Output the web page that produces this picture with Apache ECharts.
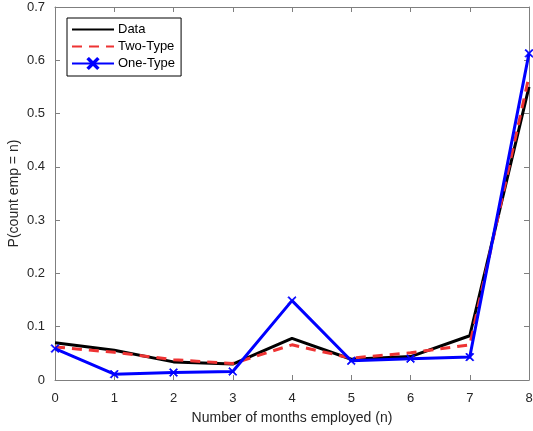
<!DOCTYPE html>
<html><head><meta charset="utf-8">
<script src="https://cdn.jsdelivr.net/npm/echarts@6/dist/echarts.min.js"></script>
<style>html,body{margin:0;padding:0;background:#fff}#c{width:533px;height:431px}</style>
</head><body><div id="c"></div>
<script>
const categories = [0, 1, 2, 3, 4, 5, 6, 7, 8];
const dataSeries = [0.070, 0.056, 0.034, 0.030, 0.078, 0.039, 0.044, 0.083, 0.550];
const twoType = [0.062, 0.052, 0.038, 0.031, 0.066, 0.041, 0.051, 0.066, 0.570];
const oneType = [0.059, 0.011, 0.014, 0.016, 0.149, 0.036, 0.040, 0.043, 0.613];
const yTicks = [0, 0.1, 0.2, 0.3, 0.4, 0.5, 0.6, 0.7];

const font = 'Liberation Sans, Arial, sans-serif';
const axisColor = '#7f7f7f';
const textColor = '#262626';
const xMark = 'path://M1,0L5,4L9,0L10,1L6,5L10,9L9,10L5,6L1,10L0,9L4,5L0,1Z';

const pairs = arr => arr.map((v, i) => [categories[i], v]);

const chart = echarts.init(document.getElementById('c'));
chart.setOption({
  animation: false,
  backgroundColor: '#fff',
  grid: { left: 55, right: 4, top: 7, bottom: 51, containLabel: false, outerBoundsMode: 'none' },
  legend: {
    left: 67, top: 18, orient: 'vertical',
    backgroundColor: '#fff', borderColor: '#000', borderWidth: 1,
    padding: [5, 6, 6, 4], itemGap: 4, itemWidth: 42, itemHeight: 13,
    textStyle: { fontFamily: font, fontSize: 13, color: '#000', padding: [0, 0, 0, -1] },
    data: [
      { name: 'Data', itemStyle: { opacity: 0 } },
      { name: 'Two-Type', itemStyle: { opacity: 0 } },
      { name: 'One-Type' }
    ]
  },
  xAxis: [{
    type: 'value', min: 0, max: 8, interval: 1,
    name: 'Number of months employed (n)', nameLocation: 'middle', nameGap: 31, nameMoveOverlap: false,
    nameTextStyle: { fontFamily: font, fontSize: 14, color: textColor },
    axisLine: { onZero: false, lineStyle: { color: axisColor } },
    axisTick: { inside: true, length: 5, lineStyle: { color: axisColor } },
    axisLabel: { fontFamily: font, fontSize: 13, color: textColor, margin: 12 },
    splitLine: { show: false }
  }, {
    type: 'value', min: 0, max: 8, interval: 1, position: 'top',
    axisLine: { onZero: false, lineStyle: { color: axisColor } },
    axisTick: { inside: true, length: 5, lineStyle: { color: axisColor } },
    axisLabel: { show: false }, splitLine: { show: false }
  }],
  yAxis: [{
    type: 'value', min: 0, max: 0.7, interval: 0.1,
    name: 'P(count emp = n)', nameLocation: 'middle', nameGap: 34, nameMoveOverlap: false,
    nameTextStyle: { fontFamily: font, fontSize: 14, color: textColor },
    axisLine: { show: true, onZero: false, lineStyle: { color: axisColor } },
    axisTick: { show: true, inside: true, length: 5, lineStyle: { color: axisColor } },
    axisLabel: { fontFamily: font, fontSize: 13, color: textColor, margin: 10,
      formatter: v => { const t = yTicks.find(y => Math.abs(y - v) < 1e-9); return t === undefined ? '' : String(t); } },
    splitLine: { show: false }
  }, {
    type: 'value', min: 0, max: 0.7, interval: 0.1, position: 'right',
    axisLine: { show: true, onZero: false, lineStyle: { color: axisColor } },
    axisTick: { show: true, inside: true, length: 5, lineStyle: { color: axisColor } },
    axisLabel: { show: false }, splitLine: { show: false }
  }],
  series: [{
    name: 'Data', type: 'line', data: pairs(dataSeries),
    symbol: 'none', color: '#000',
    lineStyle: { color: '#000', width: 3 }, z: 3
  }, {
    name: 'Two-Type', type: 'line', data: pairs(twoType),
    symbol: 'none', color: '#ee3333',
    lineStyle: { color: '#ee3333', width: 3, type: [10, 7] }, z: 4
  }, {
    name: 'One-Type', type: 'line', data: pairs(oneType),
    symbol: xMark, symbolSize: 8, showSymbol: true, color: '#0000ff',
    itemStyle: { color: '#0000ff', borderColor: '#0000ff', borderWidth: 0.8 },
    lineStyle: { color: '#0000ff', width: 3 }, z: 5
  }]
});
</script></body></html>
